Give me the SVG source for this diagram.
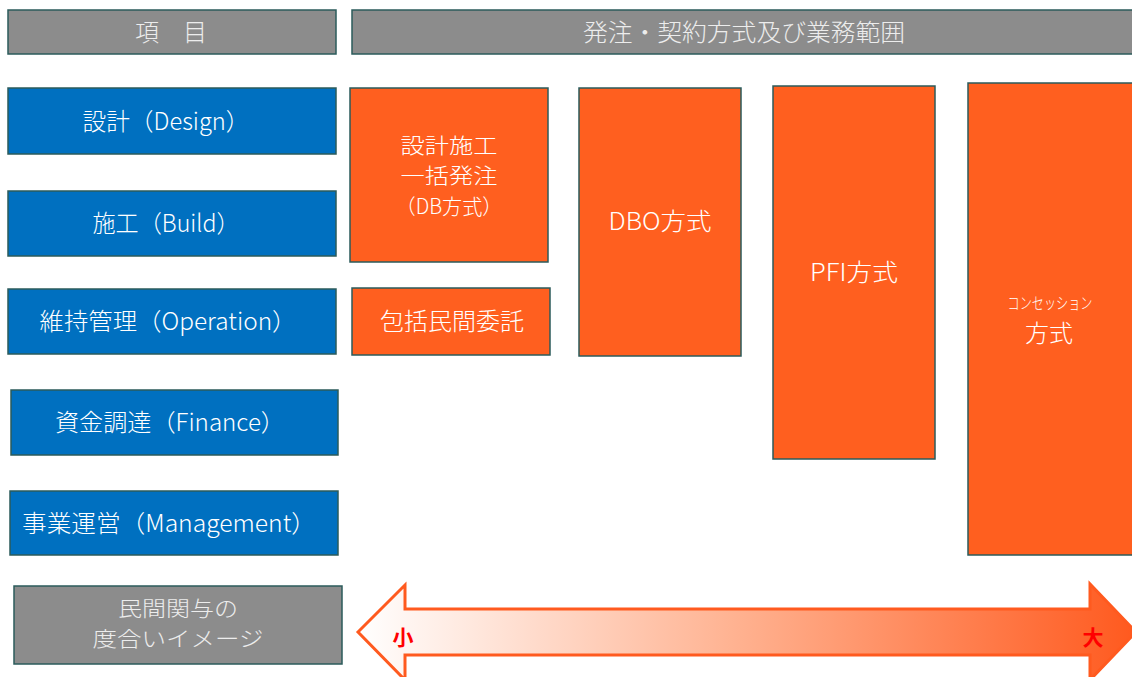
<svg xmlns="http://www.w3.org/2000/svg" width="1132" height="677" viewBox="0 0 1132 677">
<defs>
<style>
.hdr{fill:#8C8C8C;stroke:#2B5B5B;stroke-width:1.5}
.blue{fill:#0070C0;stroke:#2B5B5B;stroke-width:1.5}
.org{fill:#FF5F1F;stroke:#2B5B5B;stroke-width:1.5}
text{font-family:"Noto Sans CJK JP","Noto Sans",sans-serif;font-weight:300;text-anchor:middle;dominant-baseline:central}
.lt{fill:#EDEDED;font-size:24px}
.wt{fill:#FFFFFF;font-size:24px}
.ml{font-size:21px}
.red{fill:#FF0000;font-size:21px;font-weight:700}
</style>
<linearGradient id="grad" x1="358" y1="0" x2="1132" y2="0" gradientUnits="userSpaceOnUse">
<stop offset="0" stop-color="#FFFFFF"/>
<stop offset="0.5" stop-color="#FFB08E"/>
<stop offset="1" stop-color="#FF5A1F"/>
</linearGradient>
</defs>
<rect width="1132" height="677" fill="#FFFFFF"/>
<g id="header-item"><rect class="hdr" x="8" y="10" width="328" height="44"/><text class="lt" x="171" y="30">項　目</text></g>
<g id="header-scope"><rect class="hdr" x="352" y="10" width="790" height="44"/><text class="lt" x="744" y="30" textLength="322" lengthAdjust="spacingAndGlyphs">発注・契約方式及び業務範囲</text></g>
<g id="design"><rect class="blue" x="8" y="88" width="328" height="66"/><text class="wt" x="166" y="119" textLength="167" lengthAdjust="spacingAndGlyphs">設計（Design）</text></g>
<g id="build"><rect class="blue" x="8" y="191" width="328" height="65"/><text class="wt" x="166" y="221" textLength="147" lengthAdjust="spacingAndGlyphs">施工（Build）</text></g>
<g id="operation"><rect class="blue" x="8" y="289" width="328" height="65"/><text class="wt" x="168" y="319" textLength="257" lengthAdjust="spacingAndGlyphs">維持管理（Operation）</text></g>
<g id="finance"><rect class="blue" x="11" y="390" width="327" height="65"/><text class="wt" x="170" y="420" textLength="230" lengthAdjust="spacingAndGlyphs">資金調達（Finance）</text></g>
<g id="management"><rect class="blue" x="10" y="491" width="328" height="64"/><text class="wt" x="169" y="521" textLength="294" lengthAdjust="spacingAndGlyphs">事業運営（Management）</text></g>
<g id="db"><rect class="org" x="350" y="88" width="198" height="174"/>
<text class="wt ml" x="449" y="143.5" textLength="97" lengthAdjust="spacingAndGlyphs">設計施工</text>
<text class="wt ml" x="449" y="174" textLength="97" lengthAdjust="spacingAndGlyphs">一括発注</text>
<text class="wt ml" x="449" y="204.5" textLength="107" lengthAdjust="spacingAndGlyphs">（DB方式）</text></g>
<g id="comprehensive"><rect class="org" x="352" y="288" width="198" height="67"/><text class="wt" x="452" y="319">包括民間委託</text></g>
<g id="dbo"><rect class="org" x="579" y="88" width="162" height="268"/><text class="wt" x="660" y="219" textLength="103" lengthAdjust="spacingAndGlyphs">DBO方式</text></g>
<g id="pfi"><rect class="org" x="773" y="86" width="162" height="373"/><text class="wt" x="854" y="270" textLength="88" lengthAdjust="spacingAndGlyphs">PFI方式</text></g>
<g id="concession"><rect class="org" x="968" y="83" width="165" height="472"/>
<text class="wt" x="1050" y="302" style="font-size:16px" textLength="85" lengthAdjust="spacingAndGlyphs">コンセッション</text>
<text class="wt" x="1049" y="331.5">方式</text></g>
<g id="degree"><rect class="hdr" x="14" y="586" width="328" height="78"/>
<text class="lt ml" x="178" y="606.5" textLength="120" lengthAdjust="spacingAndGlyphs">民間関与の</text>
<text class="lt ml" x="178" y="637" textLength="171" lengthAdjust="spacingAndGlyphs">度合いイメージ</text></g>
<g id="connectors">
<polygon points="358,632 405,585 405,609 1090,609 1090,584 1136,632 1090,680 1090,655 405,655 405,680" fill="url(#grad)" stroke="#FF5A1F" stroke-width="3" stroke-linejoin="miter"/>
<text class="red" x="403" y="636">小</text>
<text class="red" x="1093" y="636">大</text>
</g>
</svg>
